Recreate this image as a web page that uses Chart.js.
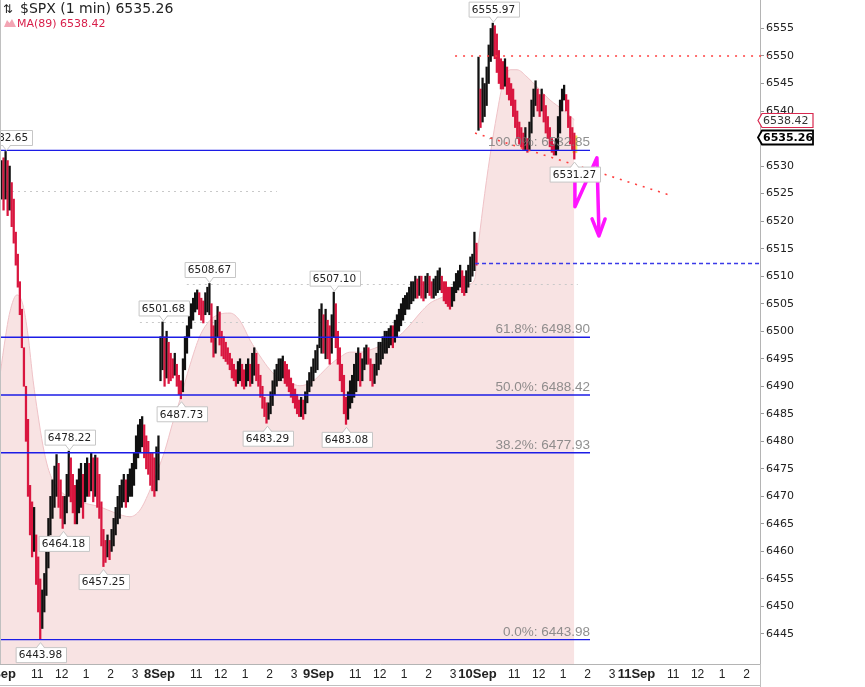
<!DOCTYPE html>
<html>
<head>
<meta charset="utf-8">
<script src="https://cdn.jsdelivr.net/npm/chart.js@4.4.1/dist/chart.umd.min.js"></script>
<style>
  html, body { margin: 0; padding: 0; background: #fff; }
  #wrap { width: 865px; height: 687px; position: relative; }
</style>
</head>
<body>
<div id="wrap"><canvas id="spx" width="865" height="687"></canvas></div>
<script>
// ---- axis labels ----
const dayLabels = ['5Sep', '8Sep', '9Sep', '10Sep', '11Sep'];
const hourLabels = ['11', '12', '1', '2', '3'];
const hourOffsets = [90, 150, 210, 270, 330];   // minutes after the 9:30 open
const yTicks = [6445, 6450, 6455, 6460, 6465, 6470, 6475, 6480, 6485, 6490, 6495, 6500,
                6505, 6510, 6515, 6520, 6525, 6530, 6535, 6540, 6545, 6550, 6555];

// ---- price, 5 minute high / low ----
const sep5High = [6531, 6531.5, 6532.65, 6531, 6530, 6527, 6524, 6518, 6514, 6509,
  6504, 6497, 6490, 6484, 6472, 6469, 6468, 6463, 6459, 6455,
  6453, 6456, 6461, 6466, 6470, 6473, 6475.5, 6477.6, 6476, 6473,
  6470, 6470, 6474, 6478.22, 6477, 6474, 6472, 6473, 6475, 6476,
  6474, 6476, 6477, 6476, 6478, 6477, 6477.5, 6477, 6474, 6469,
  6464, 6462, 6463, 6462, 6464, 6466, 6468, 6470, 6472, 6473,
  6474, 6473, 6474, 6475, 6476, 6478, 6481, 6483, 6484, 6484.5,
  6483, 6481, 6480, 6478, 6478, 6477, 6479, 6481];
const sep5Low = [6524, 6522, 6524, 6521, 6522, 6519, 6516, 6512, 6508, 6503,
  6497, 6490, 6480, 6470, 6463, 6459, 6460, 6454, 6449, 6443.98,
  6446, 6449, 6452, 6457, 6463, 6466, 6468, 6470, 6468, 6466,
  6464.18, 6465, 6467, 6470, 6469, 6467, 6465, 6465, 6467, 6468,
  6466, 6469, 6470, 6470, 6471, 6469, 6470, 6468, 6466, 6461,
  6457.25, 6458, 6459, 6458.5, 6460, 6461, 6463, 6465, 6466, 6468,
  6469, 6468, 6469, 6470, 6470, 6472, 6475, 6477, 6478, 6479,
  6477, 6475, 6474, 6472, 6471, 6470, 6471, 6473];

const sep8High = [6499, 6501.68, 6499, 6500, 6498, 6496, 6495, 6496, 6494, 6492,
  6491, 6495, 6499, 6501, 6503, 6505, 6506, 6507, 6507.5, 6507,
  6506, 6505.5, 6507, 6508, 6508.67, 6505, 6501, 6502, 6504.5, 6503.5,
  6500, 6499, 6498, 6497, 6496, 6495, 6494, 6493, 6494.5, 6495,
  6494, 6493, 6494, 6495, 6494, 6496, 6497, 6496, 6494, 6492,
  6490, 6488, 6487, 6487, 6489, 6491, 6493, 6494, 6495, 6495,
  6495.5, 6494.5, 6494, 6493, 6491.5, 6490.5, 6489.5, 6488.5, 6487.5, 6488,
  6487.5, 6489, 6491, 6492.5, 6493.5, 6495, 6496.5, 6497.5];
const sep8Low = [6491, 6493, 6490, 6491.5, 6490.5, 6491, 6491.5, 6492, 6490, 6488.5,
  6487.73, 6489, 6493, 6496, 6499, 6500.5, 6502, 6503.5, 6504, 6503,
  6502, 6501.5, 6503, 6503.5, 6503, 6498, 6495.3, 6496, 6499, 6497.5,
  6495.5, 6495, 6494.5, 6494, 6493, 6491.5, 6491, 6490, 6490.5, 6491,
  6490, 6489.5, 6490, 6491, 6490, 6490.5, 6492, 6491, 6490, 6488,
  6486, 6484.5, 6483.29, 6484, 6485, 6486.5, 6488.5, 6490, 6491, 6491,
  6491.5, 6490.5, 6490, 6489, 6488, 6487, 6486, 6485, 6484.5, 6484.5,
  6484, 6485, 6487, 6489, 6490, 6491, 6492.5, 6493];

const sep9High = [6504, 6505, 6503, 6504, 6502, 6501, 6503, 6507.10, 6505, 6500,
  6497, 6494, 6492, 6488, 6489, 6491, 6492, 6494, 6496, 6497,
  6496, 6495, 6497, 6497.5, 6497, 6495, 6494, 6494, 6496, 6498,
  6498, 6499, 6500, 6500, 6500.5, 6501, 6501, 6502, 6503, 6504,
  6505, 6506, 6506.5, 6507, 6508, 6509, 6509, 6510, 6509.5, 6510,
  6510, 6509, 6510, 6510.5, 6510, 6509, 6509.5, 6510, 6511, 6511.5,
  6510, 6509, 6509, 6508, 6508, 6508, 6509, 6510.5, 6511, 6512,
  6511, 6510, 6511, 6512, 6513.5, 6514, 6518, 6516];
const sep9Low = [6497, 6496, 6496, 6495, 6495, 6494, 6496, 6499, 6497, 6494,
  6491, 6489, 6485, 6483.08, 6484, 6486, 6487, 6488, 6489, 6491,
  6490, 6491, 6493, 6494, 6494, 6491, 6490, 6490.5, 6492, 6493,
  6494, 6495, 6496, 6496, 6497, 6497.5, 6497, 6498, 6499, 6500,
  6501, 6502, 6503, 6504, 6504, 6505, 6505.5, 6506, 6506, 6506.5,
  6506, 6505.5, 6506, 6507, 6506.5, 6506, 6506, 6506.5, 6507, 6507.5,
  6507, 6505.5, 6505, 6504.5, 6504, 6504.5, 6505.5, 6507, 6507.5, 6508,
  6507, 6506.5, 6507, 6508, 6509, 6510, 6511, 6512];

const sep10High = [6549.8, 6544, 6546, 6545, 6548, 6552, 6555, 6555.97, 6555.5, 6554,
  6551, 6549.5, 6549, 6549.5, 6548, 6546, 6545, 6544, 6542, 6540,
  6538, 6537, 6536, 6537, 6535, 6538, 6542, 6544, 6545.5, 6544,
  6543, 6544, 6543, 6541, 6539, 6537, 6535, 6534, 6535, 6539,
  6542, 6544, 6544.7, 6543, 6542, 6539, 6537, 6536];
const sep10Low = [6536.5, 6537, 6538, 6539, 6541, 6545, 6549, 6550, 6549.5, 6547,
  6545, 6544, 6544, 6544.5, 6543, 6542, 6541, 6539, 6537, 6535,
  6534, 6533.5, 6533, 6533, 6532.5, 6533, 6536, 6539, 6541, 6540,
  6539, 6540, 6538, 6536, 6535, 6533.5, 6532.5, 6532, 6532, 6533,
  6536, 6540, 6542, 6540, 6537, 6534, 6533, 6531.27];

// ---- MA(89), sampled along the pink area (trading minutes from 5 Sep open) ----
const maTime = [0, 11, 23, 40.5, 55, 67.5, 80, 92, 104, 116.5, 134, 158, 195, 244, 281, 317.5, 342, 367, 386,
  403.5, 421, 440, 465, 489, 514, 538, 563, 587.5, 612, 636.5, 661, 685.5, 710, 734.5, 764,
  784, 808, 833, 857, 882, 906, 931, 955, 980, 1004, 1029, 1053.5, 1078, 1102.5, 1127, 1151.5, 1164,
  1169, 1183.5, 1200.5, 1218, 1232.5, 1250, 1267, 1291.5, 1316, 1348, 1380, 1407.5];
const maValue = [6492.6, 6498.4, 6503.5, 6506.6, 6504.8, 6499.3, 6491.1, 6484.8, 6479.3, 6475.2, 6472.1, 6470.3, 6469.0, 6468.1, 6467.0, 6466.3, 6467.5, 6471.2, 6474.8,
  6478.4, 6483.0, 6487.5, 6493.9, 6499.1, 6502.0, 6503.1, 6503.3, 6501.9, 6498.4, 6495.5, 6493.0, 6491.3, 6490.6, 6490.1, 6490.8,
  6492.1, 6493.9, 6495.3, 6496.2, 6496.2, 6496.6, 6497.3, 6498.2, 6499.3, 6501.1, 6503.3, 6505.1, 6506.0, 6506.8, 6507.5, 6508.6, 6509.7,
  6513.5, 6522.6, 6531.7, 6539.6, 6545.1, 6547.5, 6547.5, 6546.2, 6544.4, 6542.0, 6540.2, 6538.42];

const lastClose = 6535.26;
const lastMA = 6538.42;

// ---- drawn levels ----
const fibLevels = [6532.85, 6498.90, 6488.42, 6477.93, 6443.98];
const fibNames = ['100.0%', '61.8%', '50.0%', '38.2%', '0.0%'];
const fibEnd = 1446;
const guideLevels = [6525.5, 6508.67, 6501.68];
const guideFrom = [-1.2, 457, 342];
const guideTo = [678, 1416, 1036];
const resistLevel = 6550, resistFrom = 1115;
const priorClose = 6512.3, priorCloseFrom = 1164;
const trendX = [1164, 1647], trendY = [6536.0, 6524.6];
const penX = [1409, 1409, 1463, 1468], penY = [6527.5, 6522.6, 6531.5, 6517.8];
const headX = [1451, 1468, 1483], headY = [6520.4, 6517.3, 6520.4];

const calloutValues = [6532.65, 6478.22, 6464.18, 6443.98, 6457.25, 6501.68, 6487.73,
                       6508.67, 6483.29, 6507.10, 6483.08, 6555.97, 6531.27];
const calloutKinds = ['hi', 'hi', 'lo', 'lo', 'lo', 'hi', 'lo', 'hi', 'lo', 'hi', 'lo', 'hi', 'lo'];

const X_MIN = -1.2, X_MAX = 1863;
const Y_MIN = 6439.55, Y_MAX = 6560.17;
const UP = '#111111', DOWN = '#d9163f';

// build bar data
const allBars = [];
[[sep5High, sep5Low], [sep8High, sep8Low], [sep9High, sep9Low], [sep10High, sep10Low]].forEach(function(pair, d) {
    pair[0].forEach(function(h, i) {
        allBars.push({ x: d * 390 + i * 5 + 2.5, y: [pair[1][i], h] });
    });
});
const barColors = allBars.map(function(b, i) {
    if (i === 0) return UP;
    const m = (b.y[0] + b.y[1]) / 2;
    const p = (allBars[i - 1].y[0] + allBars[i - 1].y[1]) / 2;
    return m >= p ? UP : DOWN;
});
const maData = maTime.map(function(t, i) { return { x: t, y: maValue[i] }; });

const xTickValues = [], xTickText = [];
dayLabels.forEach(function(lab, d) {
    xTickValues.push(d * 390); xTickText.push(lab);
    hourOffsets.forEach(function(o, k) {
        xTickValues.push(d * 390 + o); xTickText.push(hourLabels[k]);
    });
});
const xKeep = xTickValues.filter(function(v) { return v <= X_MAX; }).length;

function hline(ctx, x1, x2, py) {
    ctx.beginPath(); ctx.moveTo(x1, py); ctx.lineTo(x2, py); ctx.stroke();
}

function callout(ctx, px, py, text, above) {
    ctx.font = '10.5px "DejaVu Sans"';
    const w = Math.ceil(ctx.measureText(text).width) + 6, h = 15;
    const left = Math.round(px - w / 2) + 0.5;
    let tip, edge, top;
    if (above) { tip = py - 1; edge = tip - 5; top = edge - h; }
    else { tip = py + 3; edge = tip + 5; top = edge; }
    ctx.setLineDash([]);
    ctx.lineWidth = 1;
    ctx.fillStyle = '#fff';
    ctx.strokeStyle = '#c6c6c6';
    ctx.fillRect(left, top, w, h);
    ctx.strokeRect(left, top, w, h);
    ctx.beginPath();
    ctx.moveTo(px - 4, edge + (above ? -1 : 1));
    ctx.lineTo(px, tip);
    ctx.lineTo(px + 4, edge + (above ? -1 : 1));
    ctx.fill();
    ctx.beginPath();
    ctx.moveTo(px - 4, edge); ctx.lineTo(px, tip); ctx.lineTo(px + 4, edge);
    ctx.stroke();
    ctx.fillStyle = '#222';
    ctx.textAlign = 'center';
    ctx.textBaseline = 'middle';
    ctx.fillText(text, px, top + h / 2 + 0.5);
}

function axisTag(ctx, tipX, py, text, color, bold) {
    const l = tipX + 4, r = tipX + 55, h = 7;
    ctx.setLineDash([]);
    ctx.beginPath();
    ctx.moveTo(tipX, py); ctx.lineTo(l, py - h); ctx.lineTo(r, py - h);
    ctx.lineTo(r, py + h); ctx.lineTo(l, py + h); ctx.closePath();
    ctx.fillStyle = '#fff'; ctx.fill();
    ctx.strokeStyle = color; ctx.lineWidth = bold ? 1.8 : 1.2; ctx.stroke();
    ctx.font = (bold ? 'bold ' : '') + '11px "DejaVu Sans"';
    ctx.fillStyle = bold ? '#000' : '#333';
    ctx.textAlign = 'left'; ctx.textBaseline = 'middle';
    ctx.fillText(text, l + 1, py + 0.5);
}

const overlay = {
    id: 'overlay',
    afterDatasetDraw(chart, args) {
        if (args.index !== 0) return;
        const ctx = chart.ctx, x = chart.scales.x, y = chart.scales.y;
        ctx.save();
        ctx.strokeStyle = '#c9c9c9'; ctx.lineWidth = 1; ctx.setLineDash([2, 4]);
        guideLevels.forEach(function(v, i) {
            hline(ctx, x.getPixelForValue(guideFrom[i]), x.getPixelForValue(guideTo[i]), Math.round(y.getPixelForValue(v)) + 0.5);
        });
        // current bar highlight
        const lb = allBars[allBars.length - 1];
        const lx = x.getPixelForValue(lb.x);
        const t = y.getPixelForValue(lastClose + 0.3), b = y.getPixelForValue(lastClose - 2.9);
        ctx.fillStyle = '#f3e35a';
        ctx.fillRect(lx - 2, t, 5, b - t);
        ctx.restore();
    },
    afterDatasetsDraw(chart) {
        const ctx = chart.ctx, x = chart.scales.x, y = chart.scales.y, a = chart.chartArea;
        ctx.save();
        // fibonacci levels
        ctx.strokeStyle = '#1c1ce6'; ctx.lineWidth = 1.4; ctx.setLineDash([]);
        const fx = x.getPixelForValue(fibEnd);
        fibLevels.forEach(function(v) {
            hline(ctx, a.left, fx, y.getPixelForValue(v));
        });
        ctx.font = '13.5px "Liberation Sans"';
        ctx.fillStyle = 'rgba(125,125,125,0.85)';
        ctx.textAlign = 'right'; ctx.textBaseline = 'alphabetic';
        fibLevels.forEach(function(v, i) {
            ctx.fillText(fibNames[i] + ': ' + v.toFixed(2), fx, y.getPixelForValue(v) - 4);
        });
        // resistance + trend, red dots
        ctx.strokeStyle = '#ff4040'; ctx.lineWidth = 1.6; ctx.setLineDash([2, 6]);
        hline(ctx, x.getPixelForValue(resistFrom), a.right + 8, y.getPixelForValue(resistLevel));
        ctx.beginPath();
        ctx.moveTo(x.getPixelForValue(trendX[0]), y.getPixelForValue(trendY[0]));
        ctx.lineTo(x.getPixelForValue(trendX[1]), y.getPixelForValue(trendY[1]));
        ctx.stroke();
        // prior close, blue dashes
        ctx.strokeStyle = '#3a3ae8'; ctx.lineWidth = 1.3; ctx.setLineDash([4, 3]);
        hline(ctx, x.getPixelForValue(priorCloseFrom), a.right, y.getPixelForValue(priorClose));
        // hand drawn arrow
        ctx.setLineDash([]);
        ctx.strokeStyle = '#ff14ff'; ctx.lineWidth = 3.5; ctx.lineJoin = 'round'; ctx.lineCap = 'round';
        ctx.beginPath();
        penX.forEach(function(v, i) {
            const px = x.getPixelForValue(v), py = y.getPixelForValue(penY[i]);
            if (i === 0) ctx.moveTo(px, py); else ctx.lineTo(px, py);
        });
        ctx.stroke();
        ctx.beginPath();
        headX.forEach(function(v, i) {
            const px = x.getPixelForValue(v), py = y.getPixelForValue(headY[i]);
            if (i === 0) ctx.moveTo(px, py); else ctx.lineTo(px, py);
        });
        ctx.stroke();
        // high / low callouts
        calloutValues.forEach(function(v, k) {
            const hi = calloutKinds[k] === 'hi';
            const bar = allBars.find(function(b) { return Math.abs((hi ? b.y[1] : b.y[0]) - v) < 1e-6; });
            if (!bar) return;
            callout(ctx, Math.round(x.getPixelForValue(bar.x)) + 0.5, y.getPixelForValue(v), v.toFixed(2), hi);
        });
        ctx.restore();
    },
    afterDraw(chart) {
        const ctx = chart.ctx, y = chart.scales.y, a = chart.chartArea;
        ctx.save();
        axisTag(ctx, a.right - 2, Math.round(y.getPixelForValue(lastMA)) + 0.5, lastMA.toFixed(2), '#d8284f', false);
        axisTag(ctx, a.right - 2, Math.round(y.getPixelForValue(lastClose)) + 0.5, lastClose.toFixed(2), '#000', true);
        // frame bits
        ctx.strokeStyle = '#c0c0c0'; ctx.lineWidth = 1; ctx.setLineDash([]);
        ctx.beginPath(); ctx.moveTo(0.5, 0); ctx.lineTo(0.5, a.bottom); ctx.stroke();
        ctx.beginPath(); ctx.moveTo(a.right + 0.5, a.bottom); ctx.lineTo(a.right + 0.5, 687); ctx.stroke();
        ctx.beginPath(); ctx.moveTo(0, 685.5); ctx.lineTo(a.right, 685.5); ctx.stroke();
        // header
        ctx.fillStyle = '#222'; ctx.textAlign = 'left'; ctx.textBaseline = 'alphabetic';
        ctx.font = '12px "DejaVu Sans"';
        ctx.fillText('\u21C5', 3, 13);
        ctx.font = '14px "DejaVu Sans"';
        ctx.fillText('$SPX (1 min) ' + lastClose.toFixed(2), 20, 13);
        ctx.fillStyle = '#f3a5b4';
        ctx.beginPath();
        ctx.moveTo(4, 27); ctx.lineTo(7, 20); ctx.lineTo(9.5, 23); ctx.lineTo(12, 19); ctx.lineTo(16, 27); ctx.closePath();
        ctx.fill();
        ctx.fillStyle = '#d81e4a';
        ctx.font = '11px "DejaVu Sans"';
        ctx.fillText('MA(89) ' + lastMA.toFixed(2), 17, 27);
        ctx.restore();
    }
};

new Chart(document.getElementById('spx'), {
    type: 'bar',
    data: {
        datasets: [{
            type: 'line',
            data: maData,
            order: 2,
            fill: 'start',
            backgroundColor: '#f8e3e3',
            borderColor: '#efc2c7',
            borderWidth: 1,
            pointRadius: 0,
            cubicInterpolationMode: 'monotone'
        }, {
            type: 'bar',
            data: allBars,
            order: 1,
            backgroundColor: barColors,
            borderWidth: 0,
            barThickness: 1.6
        }]
    },
    options: {
        responsive: false,
        animation: false,
        layout: { padding: 0 },
        plugins: { legend: { display: false }, tooltip: { enabled: false } },
        scales: {
            x: {
                type: 'linear',
                min: X_MIN,
                max: X_MAX,
                offset: false,
                grid: { drawOnChartArea: false, drawTicks: false, offset: false },
                border: { color: '#b4b4b4' },
                afterBuildTicks: function(s) {
                    s.ticks = xTickValues.slice(0, xKeep).map(function(v) { return { value: v }; });
                },
                afterFit: function(s) { s.height = 23; s.paddingLeft = 0; s.paddingRight = 0; },
                ticks: {
                    autoSkip: false,
                    maxRotation: 0,
                    padding: 3,
                    color: '#222',
                    font: function(c) {
                        return c.index % 6 === 0
                            ? { family: 'Liberation Sans', size: 13, weight: 'bold' }
                            : { family: 'Liberation Sans', size: 12 };
                    },
                    callback: function(v, i) { return xTickText[i]; }
                }
            },
            y: {
                position: 'right',
                min: Y_MIN,
                max: Y_MAX,
                grid: { drawOnChartArea: false, tickLength: 4, color: '#999' },
                border: { color: '#b4b4b4' },
                afterBuildTicks: function(s) {
                    s.ticks = yTicks.map(function(v) { return { value: v }; });
                },
                afterFit: function(s) { s.width = 105; s.paddingTop = 0; s.paddingBottom = 0; },
                ticks: {
                    padding: 2,
                    color: '#222',
                    font: { family: 'DejaVu Sans', size: 11 },
                    callback: function(v) { return String(v); }
                }
            }
        }
    },
    plugins: [overlay]
});
</script>
</body>
</html>
